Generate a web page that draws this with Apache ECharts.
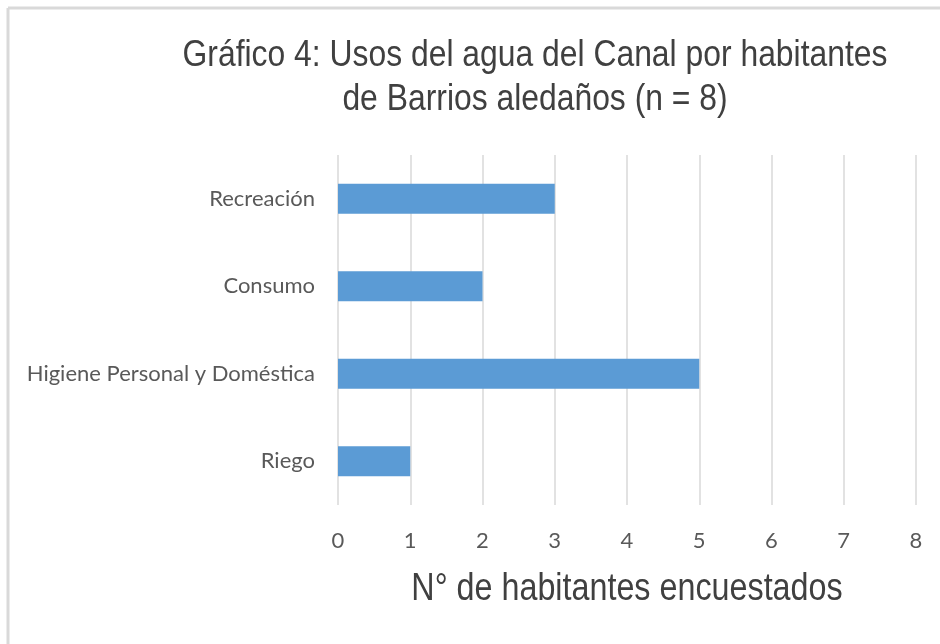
<!DOCTYPE html>
<html><head><meta charset="utf-8">
<script src="https://cdn.jsdelivr.net/npm/echarts@6/dist/echarts.min.js"></script>
<style>html,body{margin:0;padding:0;background:#fff}#c{width:940px;height:644px}</style>
</head><body><div id="c"></div>
<script>
const categories = ['Riego', 'Higiene Personal y Doméstica', 'Consumo', 'Recreación'];
const values = [1, 5, 2, 3];
const xTicks = [0, 1, 2, 3, 4, 5, 6, 7, 8];
const titleLines = ['Gráfico 4: Usos del agua del Canal por habitantes', 'de Barrios aledaños (n = 8)'];
const xName = 'N° de habitantes encuestados';

const narrowFont = '"Liberation Sans", Arial, sans-serif';
function narrowText(text, x, y, size, sx) {
  return {
    type: 'text', x: x, y: y, scaleX: sx, scaleY: 1,
    style: { text: text, x: 0, y: 0, align: 'center', verticalAlign: 'middle',
      fontFamily: narrowFont, fontSize: size, fill: '#404040' }
  };
}

const chart = echarts.init(document.getElementById('c'));
chart.setOption({
  animation: false,
  backgroundColor: '#fff',
  graphic: [
    { type: 'line', shape: { x1: 8, y1: 8, x2: 940, y2: 8 }, style: { stroke: '#d9d9d9', lineWidth: 3 } },
    { type: 'line', shape: { x1: 8, y1: 8, x2: 8, y2: 644 }, style: { stroke: '#d9d9d9', lineWidth: 3 } },
    narrowText(titleLines[0], 535, 56, 36, 0.885),
    narrowText(titleLines[1], 535, 100, 36, 0.885),
    narrowText(xName, 627, 590, 38, 0.85)
  ],
  grid: { left: 338, right: 24, top: 155, bottom: 139, containLabel: false },
  xAxis: {
    type: 'value', min: xTicks[0], max: xTicks[xTicks.length - 1], interval: 1,
    axisLine: { show: false }, axisTick: { show: false },
    axisLabel: { margin: 25, fontFamily: 'Lato, "Open Sans", sans-serif', fontSize: 22, color: '#595959' },
    splitLine: { show: true, lineStyle: { color: '#d9d9d9', width: 1.5 } }
  },
  yAxis: {
    type: 'category', data: categories,
    axisLine: { show: false }, axisTick: { show: false },
    axisLabel: { margin: 23, fontFamily: 'Lato, "Open Sans", sans-serif', fontSize: 22, color: '#595959' },
    splitLine: { show: false }
  },
  series: [{
    type: 'bar', data: values, barWidth: 30,
    itemStyle: { color: '#5b9bd5' }
  }]
});
</script></body></html>
